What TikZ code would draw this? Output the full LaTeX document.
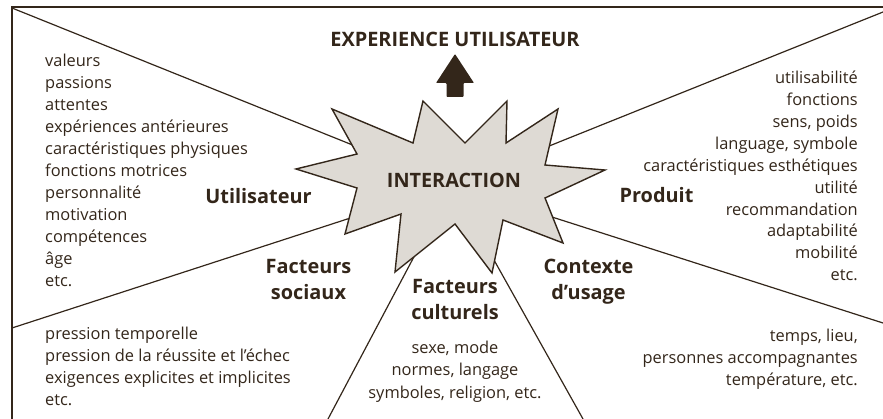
\documentclass[tikz,border=0pt]{standalone}
\usepackage{fontspec}
\setmainfont{Open Sans}
\definecolor{ink}{HTML}{33261A}
\definecolor{starfill}{HTML}{DEDAD4}
\begin{document}
\begin{tikzpicture}[x=1pt,y=-1pt,
  body/.style={font=\fontsize{16.4}{16.4}\selectfont, text=ink, inner sep=0pt},
  lab/.style={font=\fontsize{19.9}{19.9}\selectfont\bfseries, text=ink, inner sep=0pt},
  ray/.style={draw=ink, line width=1.2pt},
  frame/.style={draw=ink, line width=2pt}]
\useasboundingbox (0,0) rectangle (883,419);
% frame
\coordinate (fTL) at (11.5,7.5);
\coordinate (fTR) at (883,7.5);
\coordinate (fBL) at (11.5,419);
\draw[frame] (fTR) -- (fTL) -- (fBL);
% rays
\coordinate (C) at (452,185);
\coordinate (eTL) at (12,8);
\coordinate (eTR) at (883,12);
\coordinate (eBL) at (12,328);
\coordinate (eBR) at (883,323);
\coordinate (eBCL) at (328,419);
\coordinate (eBCR) at (583,419);
\foreach \e in {eTL,eTR,eBL,eBR,eBCL,eBCR} \draw[ray] (C) -- (\e);
% star
\draw[draw=ink, fill=starfill, line width=1.4pt, line join=miter]
  (332,109) -- (413,143) -- (423,101) -- (465,143) -- (507,101) -- (506,143)
  -- (558,109) -- (545,165) -- (605,170) -- (545,198) -- (563,243) -- (503,220)
  -- (492,273) -- (455,224) -- (395,272) -- (401,214) -- (345,234) -- (357,188)
  -- (296,169) -- (357,154) -- cycle;
\node[font=\fontsize{19.8}{19.8}\selectfont\bfseries, text=ink, inner sep=0pt, anchor=base] (inter) at (454,187.5) {INTERACTION};
% arrow
\fill[ink, rounded corners=0.8pt] (455,54) -- (474,83) -- (463.5,83) -- (463.5,97) -- (446.5,97) -- (446.5,83) -- (436,83) -- cycle;
\node[lab, anchor=base] (title) at (455,46.5) {EXPERIENCE UTILISATEUR};
% category labels
\node[lab, anchor=base] (util) at (258.5,204) {Utilisateur};
\node[lab, anchor=base] (prod) at (656.5,203) {Produit};
\node[lab, anchor=base] (soc1) at (308.5,273.5) {Facteurs};
\node[lab, anchor=base] (soc2) at (308.5,300) {sociaux};
\node[lab, anchor=base] (cul1) at (455,293.5) {Facteurs};
\node[lab, anchor=base] (cul2) at (455,319.5) {culturels};
\node[lab, anchor=base] (ctx1) at (588.5,273.5) {Contexte};
\node[lab, anchor=base] (ctx2) at (588.5,300) {d’usage};
% left list
\foreach \t [count=\i from 0] in {valeurs, passions, attentes, expériences antérieures,
  caractéristiques physiques, fonctions motrices, personnalité, motivation,
  compétences, âge, etc.}
  \node[body, anchor=base west] (L\i) at (45,66.5+22*\i) {\t};
% right list
\foreach \t [count=\i from 0] in {utilisabilité, fonctions, {sens, poids}, {language, symbole},
  caractéristiques esthétiques, utilité, recommandation, adaptabilité, mobilité, etc.}
  \node[body, anchor=base east] (R\i) at (858,84+21.85*\i) {\t};
% lower left
\foreach \t [count=\i from 0] in {pression temporelle, pression de la réussite et l'échec,
  exigences explicites et implicites, etc.}
  \node[body, anchor=base west] (S\i) at (45,340+21.7*\i) {\t};
% lower right
\foreach \t [count=\i from 0] in {{temps, lieu,}, personnes accompagnantes, {température, etc.}}
  \node[body, anchor=base east] (U\i) at (858,341.7+21.7*\i) {\t};
% cultural
\foreach \t [count=\i from 0] in {{sexe, mode}, {normes, langage}, {symboles, religion, etc.}}
  \node[body, anchor=base] (K\i) at (455,353.5+22.3*\i) {\t};
\end{tikzpicture}
\end{document}
